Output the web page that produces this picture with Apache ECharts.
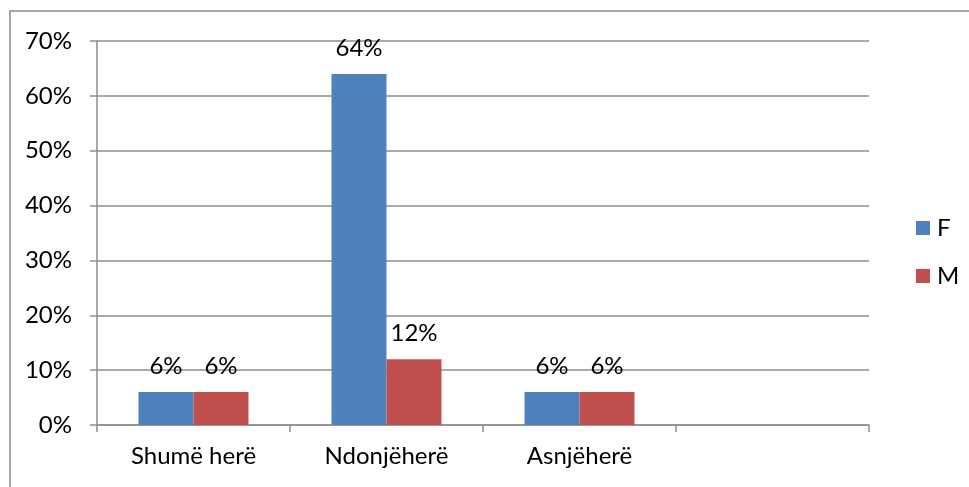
<!DOCTYPE html>
<html>
<head>
<meta charset="utf-8">
<style>
  html, body { margin: 0; padding: 0; background: #fff; }
  #chart { width: 969px; height: 487px; }
</style>
<script src="https://cdn.jsdelivr.net/npm/echarts@6/dist/echarts.min.js"></script>
</head>
<body>
<div id="chart"></div>
<script>
// Response categories (the fourth slot is left empty on the axis)
const categories = ['Shumë herë', 'Ndonjëherë', 'Asnjëherë', ''];
// Percentages per gender
const valuesF = [6, 64, 6, null];
const valuesM = [6, 12, 6, null];
const yTicks = [0, 10, 20, 30, 40, 50, 60, 70];

const FONT = 'Lato, "Noto Sans", sans-serif';
const FONT_SIZE = 24;
const GRID_COLOR = '#8e8e8e';

const chart = echarts.init(document.getElementById('chart'), null, { renderer: 'canvas' });

const labelStyle = {
  show: true,
  position: 'top',
  distance: 14,
  color: '#000',
  fontFamily: FONT,
  fontSize: FONT_SIZE,
  formatter: p => p.value + '%'
};

chart.setOption({
  animation: false,
  backgroundColor: '#fff',
  graphic: [{
    type: 'rect',
    shape: { x: 10, y: 11, width: 1000, height: 500 },
    style: { fill: 'none', stroke: '#8a8a8a', lineWidth: 1.5 },
    silent: true
  }],
  grid: { left: 97, right: 100, top: 41, bottom: 62, containLabel: false },
  legend: {
    orient: 'vertical',
    left: 911,
    top: 211,
    itemWidth: 14,
    itemHeight: 14,
    itemGap: 24,
    icon: 'rect',
    textStyle: { fontFamily: FONT, fontSize: FONT_SIZE, color: '#000', padding: [0, 0, 0, 2] },
    data: ['F', 'M']
  },
  xAxis: {
    type: 'category',
    data: categories,
    axisLine: { show: true, lineStyle: { color: GRID_COLOR, width: 1.5 } },
    axisTick: { show: true, alignWithLabel: false, length: 7, inside: false, lineStyle: { color: GRID_COLOR, width: 1.5 } },
    axisLabel: { margin: 19, color: '#000', fontFamily: FONT, fontSize: FONT_SIZE, interval: 0 },
    splitLine: { show: false }
  },
  yAxis: {
    type: 'value',
    min: yTicks[0],
    max: yTicks[yTicks.length - 1],
    interval: 10,
    axisLine: { show: true, lineStyle: { color: GRID_COLOR, width: 1.5 } },
    axisTick: { show: true, length: 7, lineStyle: { color: GRID_COLOR, width: 1.5 } },
    axisLabel: { margin: 25, color: '#000', fontFamily: FONT, fontSize: FONT_SIZE, formatter: v => v + '%' },
    splitLine: { show: true, lineStyle: { color: GRID_COLOR, width: 1.5 } }
  },
  series: [
    {
      name: 'F',
      type: 'bar',
      data: valuesF,
      barGap: '0%',
      barCategoryGap: '43%',
      itemStyle: { color: '#4F81BD' },
      label: labelStyle
    },
    {
      name: 'M',
      type: 'bar',
      data: valuesM,
      itemStyle: { color: '#C0504D' },
      label: labelStyle
    }
  ]
});
</script>
</body>
</html>
